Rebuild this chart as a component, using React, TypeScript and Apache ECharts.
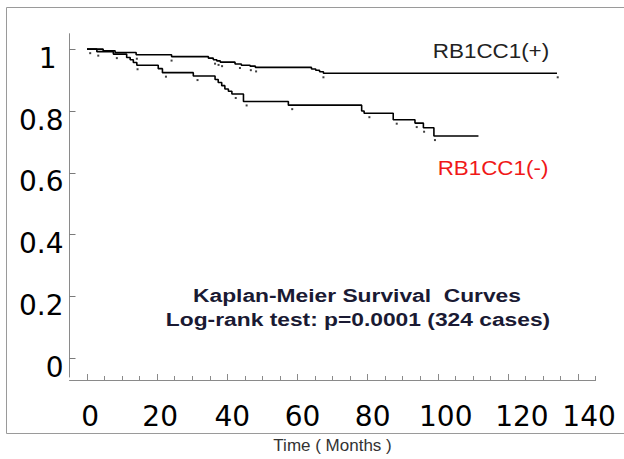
import React, { useEffect, useRef } from "react";
import * as echarts from "echarts";

// Kaplan-Meier steps: time (months) at which the curve drops, survival after the drop
const plusTimes = [0, 4.6, 8.0, 14.0, 24.1, 34.6, 36.0, 37.0, 38.0, 42.2, 44.0, 46.5, 48.0, 64.0, 65.2, 66.3, 67.4];
const plusSurv = [1, 0.995, 0.989, 0.982, 0.976, 0.971, 0.966, 0.962, 0.958, 0.952, 0.948, 0.945, 0.941, 0.936, 0.932, 0.927, 0.922];
const plusEnd = 134;
const plusCensored = [0.9, 14.2, 24.1, 36.5, 37.5, 38.5, 43.6, 46.7, 48.2, 67.4, 134.2];

const minusTimes = [0, 2.8, 7.5, 11.3, 12.3, 13.2, 14.2, 20.3, 21.5, 30.3, 36.5, 37.4, 38.4, 39.3, 40.3, 41.3, 44.6, 57.4, 78.3, 79.0, 87.3, 93.5, 95.9, 98.9];
const minusSurv = [1, 0.992, 0.984, 0.973, 0.966, 0.957, 0.948, 0.937, 0.924, 0.913, 0.902, 0.892, 0.882, 0.871, 0.864, 0.855, 0.831, 0.819, 0.8, 0.793, 0.772, 0.761, 0.746, 0.719];
const minusEnd = 111.6;
const minusCensored = [3.2, 8.5, 14.4, 22.5, 31.5, 42.4, 45.5, 58.5, 80.5, 88.3, 94, 96.1, 99.2];

const xMajorTicks = [0, 20, 40, 60, 80, 100, 120, 140];
const xMinorTicks = [5, 10, 15, 25, 30, 35, 45, 50, 55, 65, 70, 75, 85, 90, 95, 105, 110, 115, 125, 130, 135, 145];
const yTicks = [0, 0.2, 0.4, 0.6, 0.8, 1];

const plusLabel = "RB1CC1(+)";
const minusLabel = "RB1CC1(-)";
const titleLine1 = "Kaplan-Meier Survival  Curves";
const titleLine2 = "Log-rank test: p=0.0001 (324 cases)";
const xName = "Time ( Months )";

function stepLine(times: number[], surv: number[], end: number) {
  const pts = times.map((t, i) => [t, surv[i]]);
  pts.push([end, surv[surv.length - 1]]);
  return pts;
}
function survAt(times: number[], surv: number[], t: number) {
  let s = surv[0];
  for (let i = 0; i < times.length; i++) if (times[i] <= t) s = surv[i];
  return s;
}

// small per-label horizontal shifts of the axis labels (layout only)
const xLabelShift: Record<number, number> = { 0: 3, 20: 3, 40: 5, 60: 5, 80: 5, 100: 8, 120: 14, 140: 11 };

export default function App() {
  const ref = useRef<HTMLDivElement>(null);
  useEffect(() => {
    if (!ref.current) return;
    const chart = echarts.init(ref.current, null, { renderer: "svg" });
    const labelFont = { fontFamily: "DejaVu Sans", fontSize: 28, color: "#000" };
    const xRich: Record<string, any> = {};
    Object.keys(xLabelShift).forEach((k) => {
      xRich["s" + k] = { ...labelFont, padding: [0, 0, 0, 2 * xLabelShift[Number(k)]] };
    });
    const yRich = {
      n: { ...labelFont, lineHeight: 18 },
      one: { ...labelFont, lineHeight: 18, padding: [0, 7, 0, 0] },
    };
    const axisGray = "#8a8a8a";
    chart.setOption({
      animation: false,
      backgroundColor: "#fff",
      grid: { left: 69.5, right: 28.4, top: 33.7, bottom: 74 },
      xAxis: [
        {
          type: "value",
          min: -5,
          max: 145,
          position: "bottom",
          offset: 3,
          splitLine: { show: false },
          axisLine: { show: true, onZero: false, lineStyle: { color: axisGray, width: 1 } },
          axisTick: { show: true, inside: true, length: 6, customValues: xMajorTicks, lineStyle: { color: axisGray } },
          axisLabel: {
            show: true,
            customValues: xMajorTicks,
            margin: 22,
            ...labelFont,
            formatter: (v: number) => `{s${Math.round(v)}|${Math.round(v)}}`,
            rich: xRich,
          },
          name: xName,
          nameLocation: "middle",
          nameGap: 57,
          nameTextStyle: { fontFamily: "Liberation Sans", fontSize: 17, color: "#333" },
        },
        {
          type: "value",
          min: -5,
          max: 145,
          position: "bottom",
          offset: 3,
          splitLine: { show: false },
          axisLine: { show: false, onZero: false },
          axisTick: { show: true, inside: true, length: 4, customValues: xMinorTicks, lineStyle: { color: axisGray } },
          axisLabel: { show: false },
        },
      ],
      yAxis: {
        type: "value",
        min: -0.06,
        max: 1.05,
        splitLine: { show: false },
        axisLine: { show: true, onZero: false, lineStyle: { color: axisGray, width: 1 } },
        axisTick: { show: true, inside: true, length: 6, customValues: yTicks, lineStyle: { color: "#7a7a7a", width: 1 } },
        axisLabel: {
          show: true,
          customValues: yTicks,
          margin: 6,
          verticalAlign: "top",
          lineHeight: 18,
          ...labelFont,
          formatter: (v: number) => {
            const s = String(Number(v.toFixed(1)));
            return s === "1" ? `{one|${s}}` : `{n|${s}}`;
          },
          rich: yRich,
        },
      },
      series: [
        {
          type: "line",
          name: plusLabel,
          xAxisIndex: 0,
          step: "end",
          data: stepLine(plusTimes, plusSurv, plusEnd),
          showSymbol: false,
          lineStyle: { color: "#000", width: 1.6 },
        },
        {
          type: "line",
          name: minusLabel,
          xAxisIndex: 0,
          step: "end",
          data: stepLine(minusTimes, minusSurv, minusEnd),
          showSymbol: false,
          lineStyle: { color: "#000", width: 1.6 },
        },
        {
          type: "scatter",
          xAxisIndex: 0,
          symbol: "rect",
          symbolSize: 2,
          symbolOffset: [0, 4],
          itemStyle: { color: "#111" },
          data: plusCensored.map((t) => [t, survAt(plusTimes, plusSurv, t)]),
        },
        {
          type: "scatter",
          xAxisIndex: 0,
          symbol: "rect",
          symbolSize: 2,
          symbolOffset: [0, 4],
          itemStyle: { color: "#111" },
          data: minusCensored.map((t) => [t, survAt(minusTimes, minusSurv, t)]),
        },
      ],
      graphic: [
        {
          type: "rect",
          shape: { x: 6.5, y: 7.5, width: 640, height: 426 },
          style: { fill: "none", stroke: "#9a9a9a", lineWidth: 1 },
          silent: true,
        },
        {
          type: "text",
          x: 491,
          y: 51,
          scaleX: 1.12,
          style: { text: plusLabel, fill: "#222", font: "20px 'Liberation Sans'", textAlign: "center", textVerticalAlign: "middle" },
        },
        {
          type: "text",
          x: 493,
          y: 168,
          scaleX: 1.12,
          style: { text: minusLabel, fill: "#f01818", font: "20px 'Liberation Sans'", textAlign: "center", textVerticalAlign: "middle" },
        },
        {
          type: "text",
          x: 357,
          y: 295,
          scaleX: 1.2,
          style: { text: titleLine1, fill: "#1a1a33", font: "bold 19px 'Liberation Sans'", textAlign: "center", textVerticalAlign: "middle" },
        },
        {
          type: "text",
          x: 358,
          y: 319,
          scaleX: 1.2,
          style: { text: titleLine2, fill: "#1a1a33", font: "bold 19px 'Liberation Sans'", textAlign: "center", textVerticalAlign: "middle" },
        },
      ],
    });
    return () => chart.dispose();
  }, []);
  return <div ref={ref} style={{ position: "fixed", left: 0, top: 0, width: 624, height: 459 }} />;
}
